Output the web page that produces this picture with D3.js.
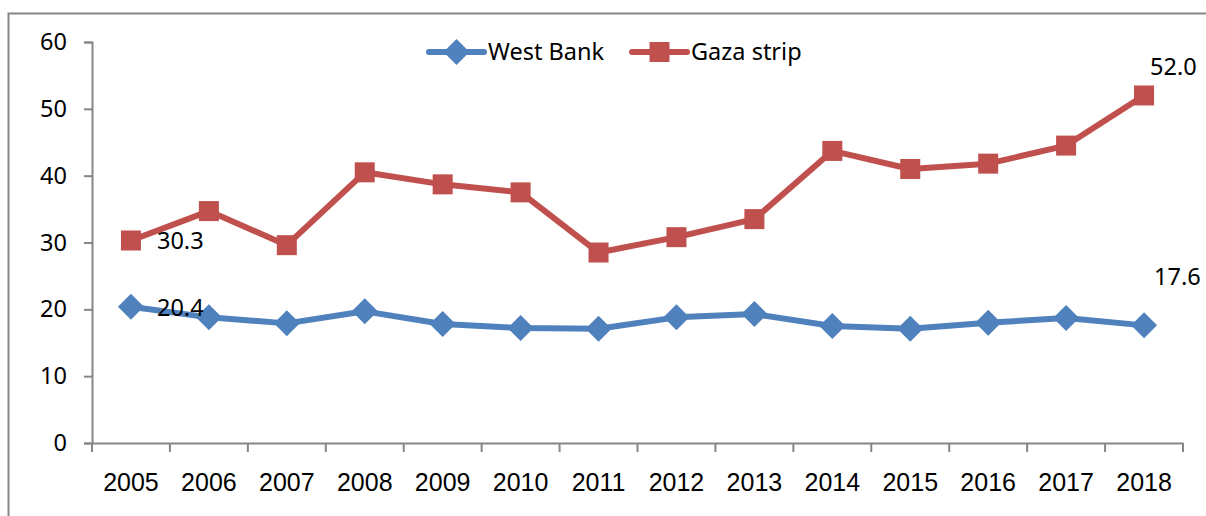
<!DOCTYPE html>
<html>
<head>
<meta charset="utf-8">
<script src="https://cdn.jsdelivr.net/npm/d3@7"></script>
<style>
  body { margin: 0; background: #fff; }
  svg { display: block; }
</style>
</head>
<body>
<svg id="chart"></svg>
<script>
// data
var years = ["2005", "2006", "2007", "2008", "2009", "2010", "2011",
             "2012", "2013", "2014", "2015", "2016", "2017", "2018"];
var westBank = [20.4, 18.8, 17.9, 19.7, 17.8, 17.2, 17.1, 18.8, 19.3, 17.5, 17.1, 18.0, 18.7, 17.6];
var gaza = [30.3, 34.7, 29.6, 40.5, 38.7, 37.5, 28.5, 30.8, 33.5, 43.7, 41.0, 41.8, 44.5, 52.0];
var yTicks = [0, 10, 20, 30, 40, 50, 60];

var width = 1206, height = 516;
var margin = {left: 92, right: 23, top: 42, bottom: 73};

var svg = d3.select("#chart")
  .attr("width", width)
  .attr("height", height);

// outer chart frame (right/bottom edges fall outside the picture)
svg.append("rect")
  .attr("x", 8.5).attr("y", 13.5)
  .attr("width", width + 20).attr("height", height + 20)
  .attr("fill", "none")
  .attr("stroke", "#868686")
  .attr("stroke-width", 2);

var x = d3.scaleBand()
  .domain(years)
  .range([margin.left, width - margin.right]);

var y = d3.scaleLinear()
  .domain([0, 60])
  .range([height - margin.bottom, margin.top]);

// y axis
var yAxis = svg.append("g")
  .attr("transform", "translate(" + margin.left + ",0)")
  .call(d3.axisLeft(y).tickValues(yTicks).tickSize(8).tickPadding(17));
yAxis.selectAll("text")
  .style("font-family", "'Noto Sans', sans-serif")
  .style("font-size", "23.5px")
  .attr("fill", "#000");

// x axis, ticks sit between categories
var xAxis = svg.append("g")
  .attr("transform", "translate(0," + y(0) + ")")
  .call(d3.axisBottom(x).tickSize(0).tickPadding(30));
xAxis.selectAll("text")
  .style("font-family", "'Liberation Sans', Arial, sans-serif")
  .style("font-size", "25px")
  .attr("fill", "#000");
xAxis.selectAll(".sep")
  .data(years.concat(["end"]))
  .enter()
  .append("line")
  .attr("class", "sep")
  .attr("x1", function(d, i) { return margin.left + i * x.step(); })
  .attr("x2", function(d, i) { return margin.left + i * x.step(); })
  .attr("y1", 0).attr("y2", 9);

svg.selectAll(".domain, .tick line, .sep")
  .attr("stroke", "#868686")
  .attr("stroke-width", 2);
svg.selectAll(".domain").attr("fill", "none");

var cx = function(d, i) { return x(years[i]) + x.bandwidth() / 2; };

var line = d3.line()
  .x(cx)
  .y(function(d) { return y(d); });

var series = [
  {name: "West Bank", values: westBank, color: "#4F81BD", shape: "diamond"},
  {name: "Gaza strip", values: gaza, color: "#C0504D", shape: "square"}
];

function marker(g, shape, color) {
  if (shape === "square") {
    g.append("rect")
      .attr("x", -10).attr("y", -10)
      .attr("width", 20).attr("height", 20)
      .attr("fill", color);
  } else {
    g.append("path")
      .attr("d", "M0,-13L13,0L0,13L-13,0Z")
      .attr("fill", color);
  }
}

series.forEach(function(s) {
  svg.append("path")
    .datum(s.values)
    .attr("d", line)
    .attr("fill", "none")
    .attr("stroke", s.color)
    .attr("stroke-width", 6)
    .attr("stroke-linejoin", "round");

  svg.selectAll(null)
    .data(s.values)
    .enter()
    .append("g")
    .attr("transform", function(d, i) {
      return "translate(" + cx(d, i) + "," + y(d) + ")";
    })
    .each(function() { marker(d3.select(this), s.shape, s.color); });
});

// data labels on first and last points
var labelFont = "'Noto Sans', sans-serif";
function addLabel(value, i, dx, dy) {
  svg.append("text")
    .attr("x", cx(value, i) + dx)
    .attr("y", y(value) + dy)
    .attr("font-family", labelFont)
    .attr("font-size", "23.5px")
    .attr("fill", "#000")
    .text(value.toFixed(1));
}
addLabel(gaza[0], 0, 26, 9);
addLabel(westBank[0], 0, 26, 9);
addLabel(gaza[13], 13, 6, -20);
addLabel(westBank[13], 13, 10, -40);

// legend
var legend = svg.append("g").attr("transform", "translate(0,52)");
var legendX = [429, 632];
series.forEach(function(s, i) {
  var g = legend.append("g").attr("transform", "translate(" + legendX[i] + ",0)");
  g.append("line")
    .attr("x1", 0).attr("x2", 55)
    .attr("stroke", s.color)
    .attr("stroke-width", 6)
    .attr("stroke-linecap", "round");
  var m = g.append("g").attr("transform", "translate(27.5,0)");
  marker(m, s.shape, s.color);
  g.append("text")
    .attr("x", 59)
    .attr("y", 8)
    .attr("font-family", labelFont)
    .attr("font-size", "23.5px")
    .attr("fill", "#000")
    .text(s.name);
});
</script>
</body>
</html>
